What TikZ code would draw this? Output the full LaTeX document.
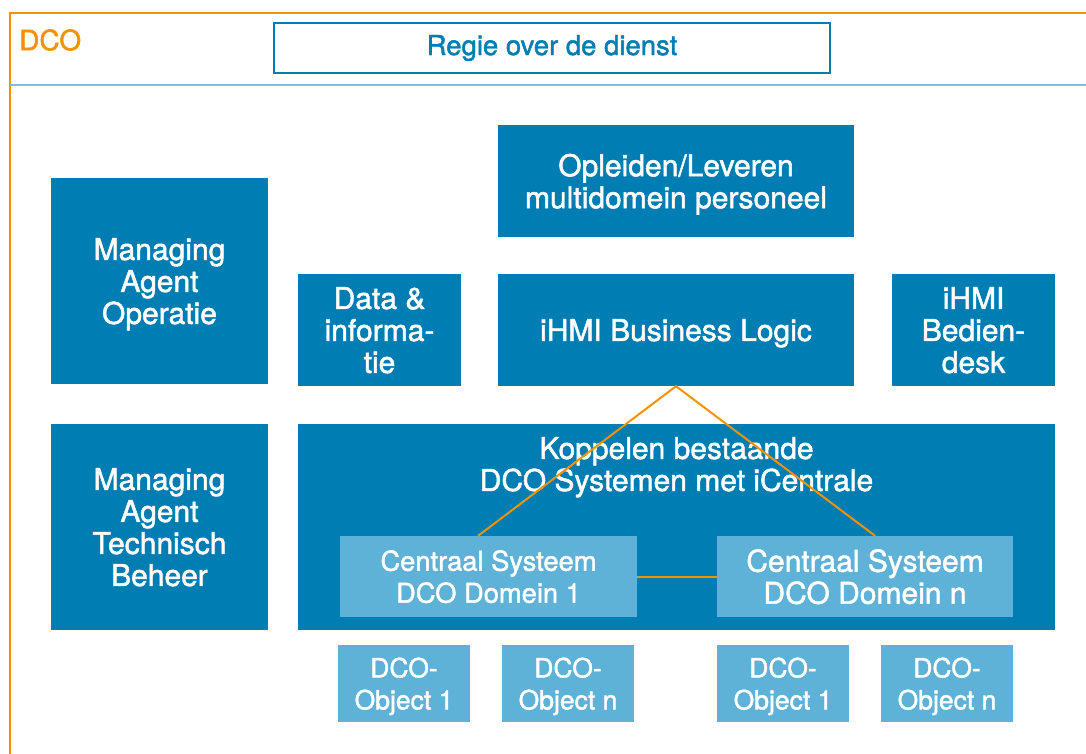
\documentclass[tikz,border=0pt]{standalone}
\usepackage{fontspec}
\setmainfont{TeX Gyre Heros}[FakeBold=1.6]
\usetikzlibrary{calc}

\definecolor{dcoblue}{RGB}{0,125,179}
\definecolor{dcolight}{RGB}{94,177,215}
\definecolor{dcoline}{RGB}{126,190,224}
\definecolor{dcoorange}{RGB}{243,146,0}

\tikzset{
    block/.style={fill=dcoblue, text=white, align=center, inner sep=0pt, text depth=0pt,
        font=\fontsize{30}{32}\selectfont},
    subblock/.style={fill=dcolight, text=white, align=center, inner sep=0pt, text depth=0pt},
    link/.style={draw=dcoorange, line width=2pt}
}

\begin{document}
\begin{tikzpicture}[x=1pt, y=-1pt]
    \useasboundingbox (0,0) rectangle (1086,754);

    % Frame
    \draw[dcoorange, line width=2.6pt] (10,754) -- (10,13) -- (1086,13);
    \draw[dcoline, line width=2.2pt] (10,85) -- (1086,85);
    \node[text=dcoorange, font=\fontsize{28}{30}\selectfont, anchor=west, inner sep=0pt] (dco) at (19,40) {DCO};

    % Regie
    \node[draw=dcoblue, line width=2.2pt, text=dcoblue, minimum width=556pt, minimum height=50pt,
        font=\fontsize{27.5}{30}\selectfont] (regie) at (552,48) {Regie over de dienst};

    % Managing agents
    \node[block, minimum width=217pt, minimum height=206pt] (mao) at (159.5,281) {Managing\\Agent\\Operatie};
    \node[block, minimum width=217pt, minimum height=206pt] (matb) at (159.5,527) {Managing\\Agent\\Technisch\\Beheer};

    % Upper row
    \node[block, minimum width=356pt, minimum height=112pt] (opl) at (676,181) {Opleiden/Leveren\\multidomein personeel};
    \node[block, minimum width=163pt, minimum height=112pt] (data) at (379.5,330) {Data \&\\informa-\\tie};
    \node[block, minimum width=356pt, minimum height=112pt] (bl) at (676,330) {iHMI Business Logic};
    \node[block, minimum width=163pt, minimum height=112pt] (desk) at (973.5,330) {iHMI\\Bedien-\\desk};

    % Koppelen
    \node[block, minimum width=757pt, minimum height=206pt] (kop) at (676.5,527) {};
    \node[text=white, align=center, inner sep=0pt, text depth=0pt, font=\fontsize{30}{32}\selectfont] (koptxt) at (676.5,464)
        {Koppelen bestaande\\DCO Systemen met iCentrale};

    % Centrale systemen
    \node[subblock, minimum width=297pt, minimum height=81pt, font=\fontsize{27.3}{32}\selectfont] (cs1) at (488.5,576.5) {Centraal Systeem\\DCO Domein 1};
    \node[subblock, minimum width=296pt, minimum height=81pt, font=\fontsize{30}{32}\selectfont] (csn) at (865,576.5) {Centraal Systeem\\DCO Domein n};

    % Connectors
    \draw[link] ($(cs1.north west)!0.465!(cs1.north east)$) -- (bl.south) -- ($(csn.north west)!0.534!(csn.north east)$);
    \draw[link] (cs1.east) -- (csn.west);

    % DCO objects
    \foreach \x/\n/\name in {404/1/ob1, 568/n/ob2, 783/1/ob3, 947/n/ob4} {
        \node[subblock, minimum width=132pt, minimum height=77pt, font=\fontsize{26.5}{32}\selectfont] (\name) at (\x,683.5) {DCO-\\Object \n};
    }
\end{tikzpicture}
\end{document}
